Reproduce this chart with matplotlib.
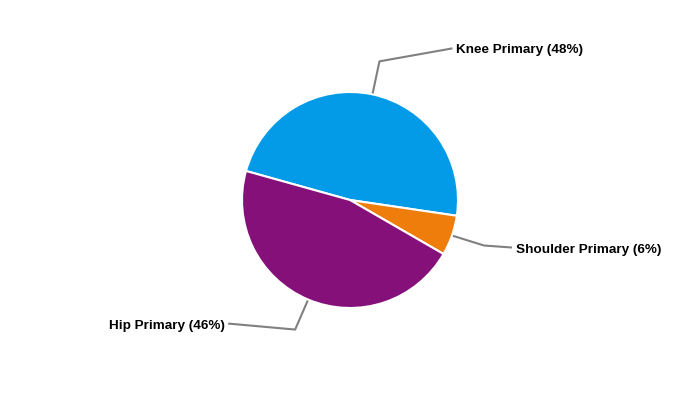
import numpy as np
import matplotlib
matplotlib.use("Agg")
import matplotlib.pyplot as plt

categories = ["Knee Primary", "Shoulder Primary", "Hip Primary"]
values = [48, 6, 46]
colors = ["#039BE8", "#EF7D0B", "#85107A"]

W, H = 700, 400
fig = plt.figure(figsize=(7, 4), dpi=100)
ax = fig.add_axes([0, 0, 1, 1])
ax.set_xlim(0, W)
ax.set_ylim(0, H)
ax.set_aspect("equal")
ax.axis("off")

cx, cy, r = 350, 200, 108
start = 164.4
wedges, _ = ax.pie(values, colors=colors, startangle=start, counterclock=False,
                   center=(cx, cy), radius=r, frame=True,
                   wedgeprops=dict(edgecolor="white", linewidth=1.5))
ax.set_xlim(0, W)
ax.set_ylim(0, H)
ax.axis("off")

# leader layout: (elbow offset dx, dy from edge point), horizontal end dx
layout = [
    ((7, 33), 73, "left"),
    ((32, -10), 28, "left"),
    ((-13, -30), -67, "right"),
]
for w, cat, val, (eoff, hlen, ha) in zip(wedges, categories, values, layout):
    mid = np.deg2rad((w.theta1 + w.theta2) / 2)
    px, py = cx + r * np.cos(mid), cy + r * np.sin(mid)
    ex, ey = px + eoff[0], py + eoff[1]
    tx, ty = ex + hlen, ey + (13 if ha == "left" and eoff[1] > 0 else (-2 if ha == "left" else 6))
    ax.plot([px, ex, tx], [py, ey, ty], color="#808080", lw=1.5, solid_capstyle="butt", zorder=0)
    ax.text(tx + (4 if ha == "left" else -3), ty - 2, f"{cat} ({val}%)", ha=ha, va="center",
            fontsize=9.7, fontweight="bold", family=["Liberation Sans", "DejaVu Sans"], color="black")

fig.savefig("out.png", dpi=100)
